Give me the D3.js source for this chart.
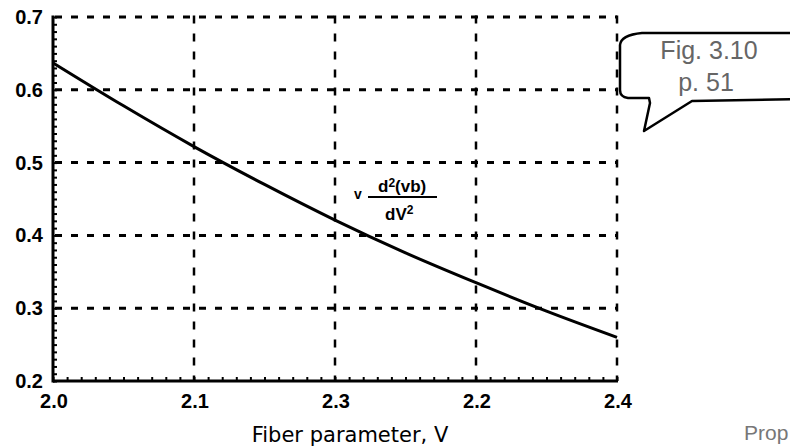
<!DOCTYPE html>
<html>
<head>
<meta charset="utf-8">
<script src="https://cdn.jsdelivr.net/npm/d3@7"></script>
<style>
  html, body { margin: 0; padding: 0; background: #fff; }
  svg { display: block; }
</style>
</head>
<body>
<svg width="790" height="447"></svg>
<script>
// Fiber parameter V and the curve V d²(Vb)/dV²
const fiberV = [2.0, 2.05, 2.1, 2.15, 2.2, 2.25, 2.3, 2.35, 2.4]
const curveValues = [0.637, 0.578, 0.522, 0.470, 0.421, 0.376, 0.335, 0.296, 0.26]

// Tick values and the labels as they are printed
const xTickValues = [2.0, 2.1, 2.2, 2.3, 2.4]
const xTickLabels = ['2.0', '2.1', '2.3', '2.2', '2.4']
const yTickValues = [0.2, 0.3, 0.4, 0.5, 0.6, 0.7]
const yTickLabels = ['0.2', '0.3', '0.4', '0.5', '0.6', '0.7']

const svg = d3.select('svg')

// Plot frame in pixels
const plotLeft = 53
const plotRight = 617
const plotTop = 17
const plotBottom = 381

const x = d3.scaleLinear().domain([2.0, 2.4]).range([plotLeft, plotRight])
const y = d3.scaleLinear().domain([0.2, 0.7]).range([plotBottom, plotTop])

// Dashed grid (also makes the top and right borders)
svg
  .append('g')
  .selectAll('line')
  .data(yTickValues.slice(1))
  .join('line')
  .attr('x1', plotLeft + 2)
  .attr('x2', plotRight)
  .attr('y1', (d) => y(d))
  .attr('y2', (d) => y(d))
  .attr('stroke', '#000')
  .attr('stroke-width', 3)
  .attr('stroke-dasharray', '7,9')

svg
  .append('g')
  .selectAll('line')
  .data(xTickValues.slice(1))
  .join('line')
  .attr('x1', (d) => x(d))
  .attr('x2', (d) => x(d))
  .attr('y1', plotTop - 1.5)
  .attr('y2', plotBottom)
  .attr('stroke', '#000')
  .attr('stroke-width', 2.5)
  .attr('stroke-dasharray', '8,10')

// Bottom axis: minor ticks pointing up into the plot
const xAxis = d3.axisTop(x).ticks(40).tickSize(4).tickFormat('')
svg
  .append('g')
  .attr('transform', `translate(0,${plotBottom})`)
  .call(xAxis)
  .call((g) => g.select('.domain').remove())
  .call((g) => g.selectAll('line').attr('stroke', '#000').attr('stroke-width', 2))

// Left axis: minor ticks pointing right into the plot
const yAxis = d3.axisRight(y).ticks(50).tickSize(4).tickFormat('')
svg
  .append('g')
  .attr('transform', `translate(${plotLeft},0)`)
  .call(yAxis)
  .call((g) => g.select('.domain').remove())
  .call((g) => g.selectAll('line').attr('stroke', '#000').attr('stroke-width', 2))

// Solid axis lines
svg
  .append('line')
  .attr('x1', plotLeft)
  .attr('x2', plotRight + 1)
  .attr('y1', plotBottom)
  .attr('y2', plotBottom)
  .attr('stroke', '#000')
  .attr('stroke-width', 3)
svg
  .append('line')
  .attr('x1', plotLeft)
  .attr('x2', plotLeft)
  .attr('y1', plotTop - 1.5)
  .attr('y2', plotBottom + 1.5)
  .attr('stroke', '#000')
  .attr('stroke-width', 3)

// Tick labels
svg
  .append('g')
  .selectAll('text')
  .data(xTickValues)
  .join('text')
  .attr('x', (d) => x(d) + 1)
  .attr('y', 408)
  .attr('text-anchor', 'middle')
  .attr('font-family', 'Liberation Sans, Arial, sans-serif')
  .attr('font-weight', 'bold')
  .attr('font-size', 20)
  .text((d, i) => xTickLabels[i])

svg
  .append('g')
  .selectAll('text')
  .data(yTickValues)
  .join('text')
  .attr('x', 43)
  .attr('y', (d) => y(d) + 7)
  .attr('text-anchor', 'end')
  .attr('font-family', 'Liberation Sans, Arial, sans-serif')
  .attr('font-weight', 'bold')
  .attr('font-size', 20)
  .text((d, i) => yTickLabels[i])

// The curve
const line = d3
  .line()
  .x((d, i) => x(fiberV[i]))
  .y((d) => y(d))
  .curve(d3.curveMonotoneX)

svg
  .append('path')
  .datum(curveValues)
  .attr('d', line)
  .attr('fill', 'none')
  .attr('stroke', '#000')
  .attr('stroke-width', 3)

// Curve annotation: v d²(vb) / dV²
const note = svg
  .append('g')
  .attr('font-family', 'Liberation Sans, Arial, sans-serif')
  .attr('font-weight', 'bold')
  .attr('fill', '#000')
note.append('text').attr('x', 354).attr('y', 199).attr('font-size', 14).text('v')
note
  .append('line')
  .attr('x1', 368)
  .attr('x2', 437)
  .attr('y1', 197)
  .attr('y2', 197)
  .attr('stroke', '#000')
  .attr('stroke-width', 2)
const num = note.append('text').attr('x', 378).attr('y', 192).attr('font-size', 17)
num.append('tspan').text('d')
num.append('tspan').attr('dy', -5).attr('font-size', 12).text('2')
num.append('tspan').attr('dy', 5).text('(vb)')
const den = note.append('text').attr('x', 385).attr('y', 220).attr('font-size', 17)
den.append('tspan').text('dV')
den.append('tspan').attr('dy', -6).attr('font-size', 12).text('2')

// Speech bubble with the figure reference
svg
  .append('path')
  .attr(
    'd',
    'M642,33 L800,33 L800,99 L692,101 L644,131 L650,103 L649,98 L628,98 Q620,97 620,90 L620,45 Q621,35 642,33 Z',
  )
  .attr('fill', '#fff')
  .attr('stroke', '#000')
  .attr('stroke-width', 2.5)
  .attr('stroke-linejoin', 'round')

const bubble = svg
  .append('g')
  .attr('font-family', 'Liberation Sans, Arial, sans-serif')
  .attr('font-size', 25)
  .attr('fill', '#666')
  .attr('text-anchor', 'middle')
bubble.append('text').attr('x', 709).attr('y', 59).text('Fig. 3.10')
bubble.append('text').attr('x', 706).attr('y', 91).text('p. 51')

// Axis title
svg
  .append('text')
  .attr('x', 350)
  .attr('y', 442)
  .attr('text-anchor', 'middle')
  .attr('font-family', 'DejaVu Sans, sans-serif')
  .attr('font-size', 21)
  .text('Fiber parameter, V')

// Footer text at the corner (cut short in the source too)
svg
  .append('text')
  .attr('x', 744)
  .attr('y', 440)
  .attr('font-family', 'Liberation Sans, Arial, sans-serif')
  .attr('font-size', 21)
  .attr('fill', '#777')
  .text('Prop')
</script>
</body>
</html>
